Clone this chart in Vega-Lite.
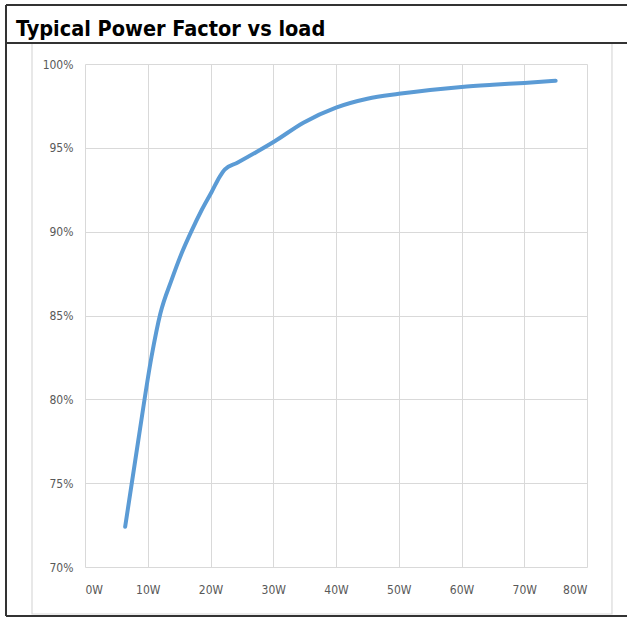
{
  "$schema": "https://vega.github.io/schema/vega-lite/v6.json",
  "autosize": {"type": "none"},
  "width": 502,
  "height": 503,
  "padding": {"left": 85, "top": 64, "right": 40, "bottom": 50},
  "background": "white",
  "config": {
    "view": {"stroke": null},
    "font": "DejaVu Sans Condensed, Liberation Sans, sans-serif"
  },
  "title": {
    "text": "Typical Power Factor vs load",
    "anchor": "start",
    "frame": "group",
    "dx": -69,
    "dy": 54,
    "offset": 0,
    "baseline": "alphabetic",
    "font": "DejaVu Sans Condensed, Liberation Sans, sans-serif",
    "fontSize": 21.5,
    "fontWeight": "bold",
    "color": "#000000"
  },
  "layer": [
    {
      "data": {"values": [{}]},
      "mark": {"type": "rect", "fill": null, "stroke": "#d9d9d9", "strokeWidth": 1.2},
      "encoding": {
        "x": {"datum": -8.446, "type": "quantitative"},
        "x2": {"datum": 83.98},
        "y": {"datum": 1.01252, "type": "quantitative"},
        "y2": {"datum": 0.67197}
      }
    },
    {
      "data": {"values": [{"ya": 1.03519}, {"ya": 1.01252}, {"ya": 0.67078}]},
      "mark": {"type": "rule", "color": "#333333", "strokeWidth": 2},
      "encoding": {
        "x": {"datum": -12.59, "type": "quantitative"},
        "x2": {"datum": 110},
        "y": {"field": "ya", "type": "quantitative"}
      }
    },
    {
      "data": {"values": [{}]},
      "mark": {"type": "rule", "color": "#333333", "strokeWidth": 2},
      "encoding": {
        "x": {"datum": -12.59, "type": "quantitative"},
        "y": {"datum": 1.03519, "type": "quantitative"},
        "y2": {"datum": 0.67078}
      }
    },
    {
      "data": {
        "values": [
          {"load": 6.4, "pf": 0.724},
          {"load": 8.5, "pf": 0.7757},
          {"load": 10.6, "pf": 0.8254},
          {"load": 12.0, "pf": 0.851},
          {"load": 13.8, "pf": 0.8712},
          {"load": 15.4, "pf": 0.8871},
          {"load": 17.0, "pf": 0.9006},
          {"load": 18.6, "pf": 0.9129},
          {"load": 20.2, "pf": 0.9238},
          {"load": 21.5, "pf": 0.9330},
          {"load": 22.3, "pf": 0.9372},
          {"load": 24.2, "pf": 0.9410},
          {"load": 27.4, "pf": 0.9477},
          {"load": 30.3, "pf": 0.9541},
          {"load": 34.8, "pf": 0.9650},
          {"load": 40.0, "pf": 0.9740},
          {"load": 45.0, "pf": 0.9793},
          {"load": 50.0, "pf": 0.9822},
          {"load": 55.0, "pf": 0.9845},
          {"load": 60.0, "pf": 0.9863},
          {"load": 65.0, "pf": 0.9876},
          {"load": 70.0, "pf": 0.9887},
          {"load": 75.0, "pf": 0.9900}
        ]
      },
      "mark": {"type": "line", "color": "#5b9bd5", "strokeWidth": 4, "interpolate": "monotone", "strokeCap": "round"},
      "encoding": {
        "x": {
          "field": "load",
          "type": "quantitative",
          "scale": {"domain": [0, 80], "nice": false, "zero": false},
          "axis": {
            "title": null,
            "values": [0, 10, 20, 30, 40, 50, 60, 70, 80],
            "labelExpr": "datum.value + 'W'",
            "domain": false,
            "ticks": false,
            "grid": true,
            "gridColor": "#d9d9d9",
            "gridWidth": 1,
            "labelColor": "#595959",
            "labelFontSize": 12,
            "labelFont": "DejaVu Sans Condensed, Liberation Sans, sans-serif",
            "labelPadding": 17
          }
        },
        "y": {
          "field": "pf",
          "type": "quantitative",
          "scale": {"domain": [0.7, 1.0], "nice": false, "zero": false},
          "axis": {
            "title": null,
            "values": [0.7, 0.75, 0.8, 0.85, 0.9, 0.95, 1.0],
            "format": ".0%",
            "domain": false,
            "ticks": false,
            "grid": true,
            "gridColor": "#d9d9d9",
            "gridWidth": 1,
            "labelColor": "#595959",
            "labelFontSize": 12,
            "labelFont": "DejaVu Sans Condensed, Liberation Sans, sans-serif",
            "labelPadding": 12
          }
        }
      }
    }
  ]
}
